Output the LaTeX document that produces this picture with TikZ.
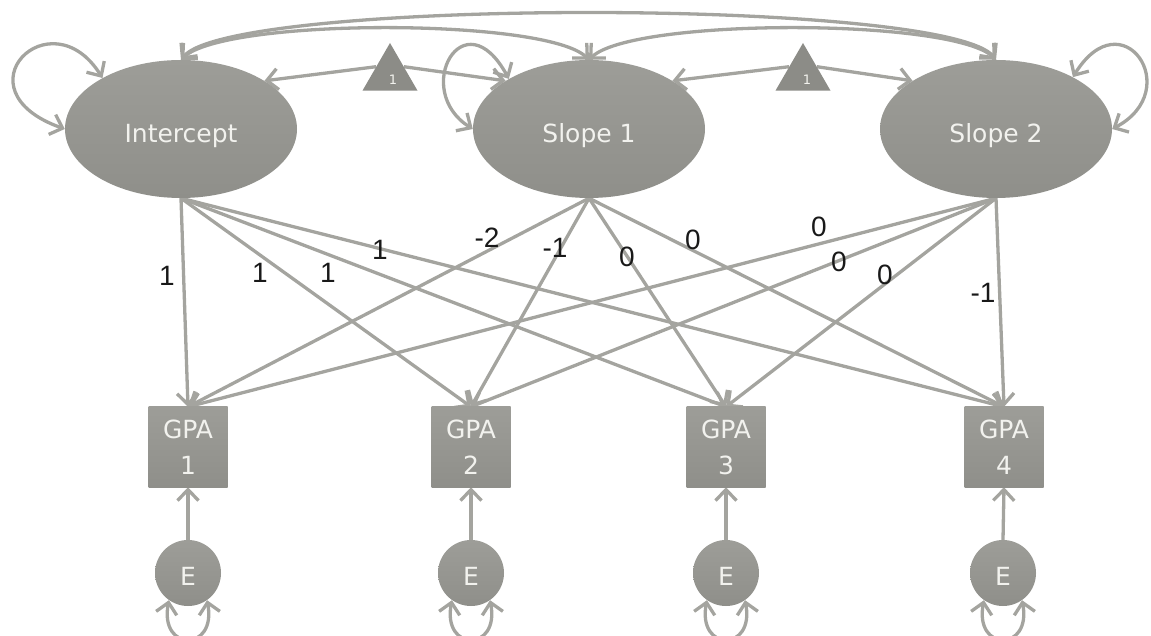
\documentclass[tikz,border=0pt]{standalone}
\usepackage{fontspec}
\setmainfont{DejaVu Sans}
\newfontfamily\coeffont{Liberation Sans}
\usetikzlibrary{arrows.meta,shapes.geometric,backgrounds,shadings}

\definecolor{linegray}{RGB}{164,164,159}
\definecolor{fillhi}{RGB}{157,157,152}
\definecolor{filllo}{RGB}{143,143,138}
\definecolor{constgray}{RGB}{140,140,135}
\definecolor{txtwhite}{RGB}{242,242,238}
\definecolor{coefdark}{RGB}{25,25,25}

\tikzset{
  barb/.tip={Straight Barb[length=11pt,width=21pt]},
  link/.style={draw=linegray, line width=3.3pt, -barb},
  cov/.style={draw=linegray, line width=3.3pt, barb-barb},
  latent/.style={ellipse, minimum width=232pt, minimum height=138pt, inner sep=0pt,
    top color=fillhi, bottom color=filllo, text=txtwhite,
    font=\fontsize{25}{29}\selectfont, text height=38pt, text depth=10pt},
  observed/.style={rectangle, minimum width=79pt, minimum height=80pt, inner sep=0pt,
    top color=fillhi, bottom color=filllo, text=txtwhite, align=center,
    font=\fontsize{25}{36}\selectfont},
  resid/.style={circle, minimum size=66pt, inner sep=0pt,
    top color=fillhi, bottom color=filllo, text=txtwhite,
    font=\fontsize{25}{29}\selectfont, text height=29pt, text depth=5pt},
  const/.style={regular polygon, regular polygon sides=3, minimum size=63.5pt,
    inner sep=0pt, fill=constgray},
  onetext/.style={text=txtwhite, font=\fontsize{13}{14}\selectfont, inner sep=0pt},
  coef/.style={text=coefdark, font=\coeffont\fontsize{28}{30}\selectfont, inner sep=0pt},
}

\begin{document}
\begin{tikzpicture}[x=1pt,y=1pt]
\useasboundingbox (0,0) rectangle (1151,635);
\clip (0,0) rectangle (1151,635);

% growth factors
\node[latent] (icpt)   at (181,506) {Intercept};
\node[latent] (slopeA) at (589,506) {Slope 1};
\node[latent] (slopeB) at (996,506) {Slope 2};

% mean constants
\node[const] (oneA) at (390,560.25) {};
\node[const] (oneB) at (803,560.25) {};
\node[onetext] (oneAtxt) at (393,555) {1};
\node[onetext] (oneBtxt) at (807,555) {1};

% observed GPA scores
\node[observed] (gpa1) at (188,188)  {GPA\\1};
\node[observed] (gpa2) at (471,188)  {GPA\\2};
\node[observed] (gpa3) at (726,188)  {GPA\\3};
\node[observed] (gpa4) at (1004,188) {GPA\\4};

% residuals
\node[resid] (err1) at (188,62)  {E};
\node[resid] (err2) at (471,62)  {E};
\node[resid] (err3) at (726,62)  {E};
\node[resid] (err4) at (1003,62) {E};

\begin{pgfonlayer}{background}
\clip (0,0) rectangle (1151,635);
% factor loadings
\foreach \f in {icpt,slopeA,slopeB}{
  \foreach \g in {gpa1,gpa2,gpa3,gpa4}{
    \draw[link] (\f.south) -- (\g.north);
  }
}
% residual paths and residual variances
\foreach \i in {1,2,3,4}{
  \draw[link] (err\i.north) -- (gpa\i.south);
  \draw[cov] (err\i.235) .. controls +(-10,-52) and +(10,-52) .. (err\i.305);
}
% means from the constants
\draw[link] (oneA.side 1) -- (icpt.30);
\draw[link] (oneA.side 3) -- (slopeA.150);
\draw[link] (oneB.side 1) -- (slopeA.30);
\draw[link] (oneB.side 3) -- (slopeB.150);
% factor covariances
\draw[cov] (icpt.north) .. controls +(49,62) and +(-48,62) .. (slopeB.north);
\draw[cov] (icpt.north) .. controls +(44,42) and +(-43,42) .. (slopeA.north);
\draw[cov] (slopeA.north) .. controls +(43,42) and +(-43,42) .. (slopeB.north);
% factor variances
\draw[cov] (icpt.147) .. controls +(-52,83) and +(-110,39) .. (icpt.west);
\draw[cov] (slopeA.148) .. controls +(-45,83) and +(-62,39) .. (slopeA.west);
\draw[cov] (slopeB.34) .. controls +(49,80) and +(74,39) .. (slopeB.east);
\end{pgfonlayer}

% loading values
\node[coef] (wI1) at (167,359) {1};
\node[coef] (wI2) at (260,362) {1};
\node[coef] (wI3) at (328,362) {1};
\node[coef] (wI4) at (380,385) {1};
\node[coef] (wA1) at (487,397) {-2};
\node[coef] (wA2) at (555,387) {-1};
\node[coef] (wA3) at (627,378) {0};
\node[coef] (wA4) at (693,395) {0};
\node[coef] (wB1) at (819,408) {0};
\node[coef] (wB2) at (839,373) {0};
\node[coef] (wB3) at (885,360) {0};
\node[coef] (wB4) at (983,342) {-1};
\end{tikzpicture}
\end{document}
